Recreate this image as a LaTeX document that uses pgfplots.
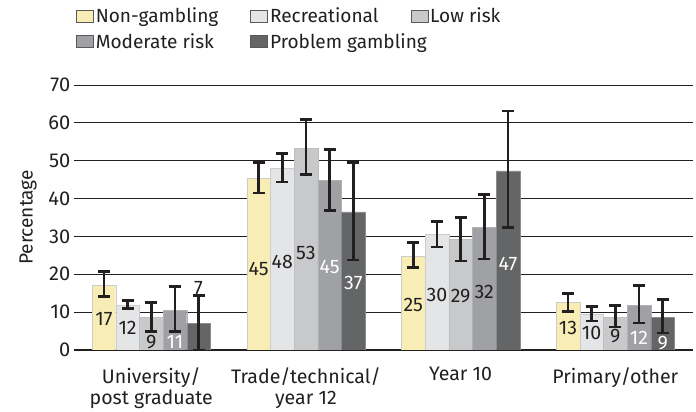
\documentclass[border=0pt]{standalone}
\usepackage{pgfplots}
\pgfplotsset{compat=1.18}
\usepackage{pgfplotstable}
\usepackage{fontspec}
\setmainfont{Fira Sans}

\definecolor{txt}{HTML}{231F20}
\definecolor{cNG}{HTML}{F7EDB5}
\definecolor{cRec}{HTML}{E4E5E7}
\definecolor{cLow}{HTML}{C8C9CB}
\definecolor{cMod}{HTML}{A0A1A4}
\definecolor{cProb}{HTML}{646567}

% x y err+ err-   (x = group + bar offset)
\pgfplotstableread{
x y ep em
-0.306 17.2 3.5 3.1
0.694 45.4 4.2 3.9
1.694 24.7 3.7 3.0
2.694 12.5 2.4 2.3
}\nongambling
\pgfplotstableread{
x y ep em
-0.153 11.8 1.3 0.8
0.847 48.0 3.9 3.6
1.847 30.5 3.4 3.3
2.847 9.5 1.9 1.9
}\recreational
\pgfplotstableread{
x y ep em
0 8.5 4.0 3.7
1 53.2 7.7 6.9
2 29.2 5.8 5.7
3 8.6 3.1 2.6
}\lowrisk
\pgfplotstableread{
x y ep em
0.153 10.5 6.2 5.6
1.153 44.8 8.1 7.9
2.153 32.3 8.8 8.3
3.153 11.8 5.2 4.7
}\modrisk
\pgfplotstableread{
x y ep em
0.306 7.0 7.3 7.0
1.306 36.5 13.1 12.7
2.306 47.3 15.8 15.0
3.306 8.6 4.7 4.1
}\problem

% value labels: dark text
\pgfplotstableread{
x y lab
-0.306 8.2 17
-0.153 5.8 12
0 2.1 9
0.306 16.4 7
0.694 21.5 45
0.847 23.1 48
1 25.7 53
1.694 11.9 25
1.847 14.6 30
2 14.1 29
2.153 15.2 32
2.694 5.9 13
2.847 4.5 10
3 3.6 9
}\darklabels
% value labels: white text
\pgfplotstableread{
x y lab
0.153 2.1 11
1.153 21.8 45
1.306 17.8 37
2.306 22.8 47
3.153 3.2 12
3.306 1.8 9
}\whitelabels

\begin{document}
\begin{tikzpicture}
\begin{axis}[
    scale only axis,
    width=617pt, height=264pt,
    xmin=-0.5, xmax=3.5,
    ymin=0, ymax=70,
    ytick={0,10,...,70},
    xtick={0,1,2,3},
    xticklabels={University/\\post graduate, Trade/technical/\\year 12, Year 10, Primary/other},
    xticklabel style={align=center, font=\fontsize{19.5}{21}\selectfont, text=txt, yshift=-14pt},
    yticklabel style={font=\fontsize{20}{22}\selectfont, text=txt, xshift=0pt},
    /pgf/number format/assume math mode=true,
    xtick style={draw=none},
    ytick style={draw=none},
    extra x ticks={-0.5,0.5,1.5,2.5,3.5},
    extra x tick labels={},
    extra x tick style={grid=none, major tick length=4pt, tick align=outside, tick style={draw=txt, line width=2pt}},
    ymajorgrids,
    grid style={txt, line width=0.9pt},
    axis x line*=bottom,
    axis y line*=left,
    y axis line style={draw=none},
    x axis line style={draw=txt, line width=2.4pt, -},
    ylabel={Percentage},
    ylabel style={font=\fontsize{19}{21}\selectfont, text=txt},
    ylabel shift=5pt,
    legend columns=3,
    legend style={at={(0,1)}, anchor=south west, yshift=31pt, xshift=-1pt, draw=none,
        font=\fontsize{19}{21}\selectfont, text=txt, cells={anchor=west},
        /tikz/every even column/.append style={column sep=30pt}, row sep=5pt},
    legend image code/.code={\draw[#1, draw=black!65, line width=0.6pt] (0pt,-6pt) rectangle (17pt,6pt);},
    error bars/error bar style={draw=txt, line width=2.6pt},
    error bars/error mark options={rotate=90, mark size=6pt, line width=2.6pt, draw=txt},
]
\addplot[ybar, bar width=0.153, bar shift=0, fill=cNG, draw=black!20,
    error bars/.cd, y dir=both, y explicit]
    table[x=x, y=y, y error plus=ep, y error minus=em] {\nongambling};
\addplot[ybar, bar width=0.153, bar shift=0, fill=cRec, draw=black!20,
    error bars/.cd, y dir=both, y explicit]
    table[x=x, y=y, y error plus=ep, y error minus=em] {\recreational};
\addplot[ybar, bar width=0.153, bar shift=0, fill=cLow, draw=black!25,
    error bars/.cd, y dir=both, y explicit]
    table[x=x, y=y, y error plus=ep, y error minus=em] {\lowrisk};
\addplot[ybar, bar width=0.153, bar shift=0, fill=cMod, draw=black!30,
    error bars/.cd, y dir=both, y explicit]
    table[x=x, y=y, y error plus=ep, y error minus=em] {\modrisk};
\addplot[ybar, bar width=0.153, bar shift=0, fill=cProb, draw=black!45,
    error bars/.cd, y dir=both, y explicit]
    table[x=x, y=y, y error plus=ep, y error minus=em] {\problem};

\addplot[draw=none, mark=none, forget plot, nodes near coords, point meta=explicit symbolic,
    nodes near coords style={anchor=center, text=txt, font=\fontsize{19.5}{21}\selectfont}]
    table[x=x, y=y, meta=lab] {\darklabels};
\addplot[draw=none, mark=none, forget plot, nodes near coords, point meta=explicit symbolic,
    nodes near coords style={anchor=center, text=white, font=\fontsize{19.5}{21}\selectfont}]
    table[x=x, y=y, meta=lab] {\whitelabels};

\legend{Non-gambling, Recreational, Low risk, Moderate risk, \makebox[108pt][l]{Problem gambling}}
\end{axis}
\path (current bounding box.west) ++(-16pt,0) coordinate (padleft);
\path (current bounding box.north) ++(0,4pt) coordinate (padtop);
\end{tikzpicture}
\end{document}
